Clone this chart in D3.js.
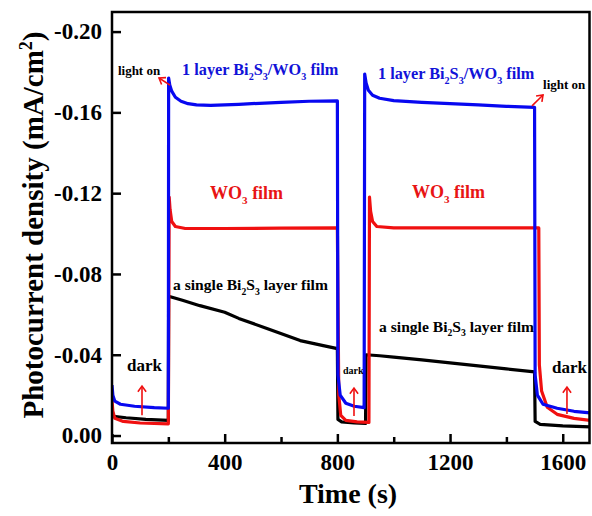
<!DOCTYPE html>
<html>
<head>
<meta charset="utf-8">
<script src="https://cdn.jsdelivr.net/npm/d3@7"></script>
<style>
  html, body { margin: 0; padding: 0; background: #fff; }
  svg { display: block; }
  text { font-family: "Liberation Serif", "Times New Roman", serif; font-weight: bold; }
</style>
</head>
<body>
<svg id="chart" width="592" height="516"></svg>
<script>
// ---- data (time in s, photocurrent density in mA/cm^2) ----
const blueTime = [0,3,10,30,80,150,200, 201,205,212,225,245,270,300,350,450,600,700,800, 802,810,830,860,895, 897,902,910,925,950,1000,1100,1200,1300,1400,1500, 1502,1510,1530,1580,1640,1700];
const blueValue = [-0.025,-0.020,-0.017,-0.0155,-0.0145,-0.0138,-0.0135, -0.177,-0.1735,-0.1705,-0.1675,-0.1655,-0.1643,-0.1637,-0.1635,-0.164,-0.165,-0.1655,-0.1657, -0.030,-0.020,-0.016,-0.0145,-0.0138, -0.179,-0.1745,-0.171,-0.1685,-0.167,-0.1658,-0.165,-0.1643,-0.1637,-0.163,-0.1625, -0.030,-0.020,-0.0155,-0.0135,-0.012,-0.0112];

const redTime = [0,3,10,40,100,200, 203,206,212,225,260,400,600,800, 805,812,830,870,912, 914,918,925,940,1000,1200,1400,1515, 1517,1525,1545,1580,1640,1700];
const redValue = [-0.0175,-0.012,-0.0085,-0.007,-0.0062,-0.0058, -0.118,-0.112,-0.106,-0.1035,-0.1025,-0.1025,-0.1027,-0.1028, -0.020,-0.010,-0.0075,-0.0068,-0.0065, -0.118,-0.111,-0.106,-0.1035,-0.1028,-0.1028,-0.1028,-0.1028, -0.035,-0.022,-0.014,-0.0105,-0.0085,-0.0075];

const blackTime = [0,5,50,120,200, 201,250,312,400,450,550,668,750,800, 802,815,860,900, 902,950,1000,1100,1200,1300,1400,1500, 1502,1520,1600,1700];
const blackValue = [-0.0105,-0.0095,-0.0088,-0.008,-0.0075, -0.069,-0.067,-0.0643,-0.061,-0.058,-0.053,-0.047,-0.0445,-0.043, -0.008,-0.0068,-0.0062,-0.006, -0.040,-0.0395,-0.0388,-0.0375,-0.036,-0.0345,-0.033,-0.0315, -0.007,-0.0055,-0.0048,-0.0043];

const xTicks = [0, 400, 800, 1200, 1600];
const xMinorTicks = [200, 600, 1000, 1400];
const yTicks = [0, -0.04, -0.08, -0.12, -0.16, -0.20];

// annotations [time, value]
const lightOnLabels = [[21, -0.1785], [1530, -0.1716]];
const lightOnArrows = [[[206, -0.1735], [167, -0.177]], [[1491, -0.1632], [1530, -0.1686]]];
const bluLabels = [[248.5, -0.1785], [944, -0.1765]];
const redLabels = [[348, -0.1171], [1065, -0.1176]];
const blackLabels = [[216.5, -0.0720], [948, -0.0514]];
const darkLabels = [[53, -0.0319, 17], [820, -0.0303, 10], [1562, -0.0309, 17]];
const darkArrows = [[[106.5, -0.0101], [106.5, -0.0245]], [[859, -0.0097], [859, -0.0235]], [[1615, -0.0106], [1615, -0.024]]];

// ---- drawing ----
const svg = d3.select("#chart");
const x = d3.scaleLinear().domain([0, 1695]).range([112, 589.5]);
const y = d3.scaleLinear().domain([0.0037, -0.2097]).range([443, 12]);

const BLUE = "#0808f0", RED = "#f01010", BLACK = "#000";

const line = d3.line().x(d => x(d[0])).y(d => y(d[1]));
const series = [
  { t: blackTime, v: blackValue, c: BLACK },
  { t: redTime, v: redValue, c: RED },
  { t: blueTime, v: blueValue, c: BLUE }
];
svg.append("clipPath").attr("id", "clip").append("rect")
  .attr("x", x(0)).attr("y", y(-0.2097)).attr("width", x(1695) - x(0)).attr("height", y(0.0037) - y(-0.2097));
const g = svg.append("g").attr("clip-path", "url(#clip)");
series.forEach(s => {
  g.append("path")
    .datum(s.t.map((t, i) => [t, s.v[i]]))
    .attr("d", line)
    .attr("fill", "none")
    .attr("stroke", s.c)
    .attr("stroke-width", 3.2)
    .attr("stroke-linejoin", "round");
});

// frame
svg.append("rect")
  .attr("x", x(0)).attr("y", y(-0.2097))
  .attr("width", x(1695) - x(0)).attr("height", y(0.0037) - y(-0.2097))
  .attr("fill", "none").attr("stroke", "#000").attr("stroke-width", 2.5);

// x axis
svg.append("g").attr("transform", `translate(0,${y(0.0037)})`)
  .call(d3.axisBottom(x).tickValues(xTicks).tickSizeInner(-9).tickSizeOuter(0).tickPadding(11).tickFormat(d3.format("d")));
svg.append("g").attr("transform", `translate(0,${y(0.0037)})`)
  .call(d3.axisBottom(x).tickValues(xMinorTicks).tickSizeInner(-6).tickSizeOuter(0).tickFormat(""));
// y axis
svg.append("g").attr("transform", `translate(${x(0)},0)`)
  .call(d3.axisLeft(y).tickValues(yTicks).tickSizeInner(-9).tickSizeOuter(0).tickPadding(10).tickFormat(d => d.toFixed(2)));

svg.selectAll(".domain").remove();
svg.selectAll(".tick line").attr("stroke", "#000").attr("stroke-width", 2.5);
svg.selectAll(".tick text").attr("fill", "#000").style("font-size", "23px")
  .style("font-family", '"Liberation Serif", serif').style("font-weight", "bold");

// axis titles
svg.append("text").attr("x", 348).attr("y", 503).attr("text-anchor", "middle")
  .style("font-size", "28px").text("Time (s)");
const yt = svg.append("text").attr("transform", "translate(43,225) rotate(-90)")
  .attr("text-anchor", "middle").style("font-size", "29px");
yt.append("tspan").text("Photocurrent density (mA/cm");
yt.append("tspan").attr("dy", -11).style("font-size", "18px").text("2");
yt.append("tspan").attr("dy", 11).text(")");

// helper for text with subscripts: parts = [[text, isSub], ...]
function subText(px, py, parts, size, color) {
  const t = svg.append("text").attr("x", px).attr("y", py).attr("fill", color).style("font-size", size + "px");
  let shifted = false;
  parts.forEach(([s, sub]) => {
    const sp = t.append("tspan").text(s);
    if (sub && !shifted) { sp.attr("dy", size * 0.3).style("font-size", (size * 0.62) + "px"); shifted = true; }
    else if (!sub && shifted) { sp.attr("dy", -size * 0.3); shifted = false; }
    else if (sub) sp.style("font-size", (size * 0.62) + "px");
  });
}

bluLabels.forEach(([t, v]) => subText(x(t), y(v),
  [["1 layer Bi", false], ["2", true], ["S", false], ["3", true], ["/WO", false], ["3", true], [" film", false]], 16.3, "#1212d8"));
redLabels.forEach(([t, v]) => subText(x(t), y(v),
  [["WO", false], ["3", true], [" film", false]], 18, "#e81414"));
blackLabels.forEach(([t, v]) => subText(x(t), y(v),
  [["a single Bi", false], ["2", true], ["S", false], ["3", true], [" layer film", false]], 15.6, "#000"));

lightOnLabels.forEach(([t, v]) => svg.append("text").attr("x", x(t)).attr("y", y(v))
  .style("font-size", "13px").attr("fill", "#000").text("light on"));
darkLabels.forEach(([t, v, s]) => svg.append("text").attr("x", x(t)).attr("y", y(v))
  .style("font-size", s + "px").attr("fill", "#000").text("dark"));

function arrow(from, to) {
  const x1 = x(from[0]), y1 = y(from[1]), x2 = x(to[0]), y2 = y(to[1]);
  const a = Math.atan2(y2 - y1, x2 - x1), L = 7, w = Math.PI / 5;
  svg.append("line").attr("x1", x1).attr("y1", y1).attr("x2", x2).attr("y2", y2)
    .attr("stroke", RED).attr("stroke-width", 1.6);
  svg.append("path")
    .attr("d", `M${x2 - L * Math.cos(a - w)},${y2 - L * Math.sin(a - w)}L${x2},${y2}L${x2 - L * Math.cos(a + w)},${y2 - L * Math.sin(a + w)}`)
    .attr("fill", "none").attr("stroke", RED).attr("stroke-width", 1.6);
}
lightOnArrows.forEach(([f, t]) => arrow(f, t));
darkArrows.forEach(([f, t]) => arrow(f, t));
</script>
</body>
</html>
